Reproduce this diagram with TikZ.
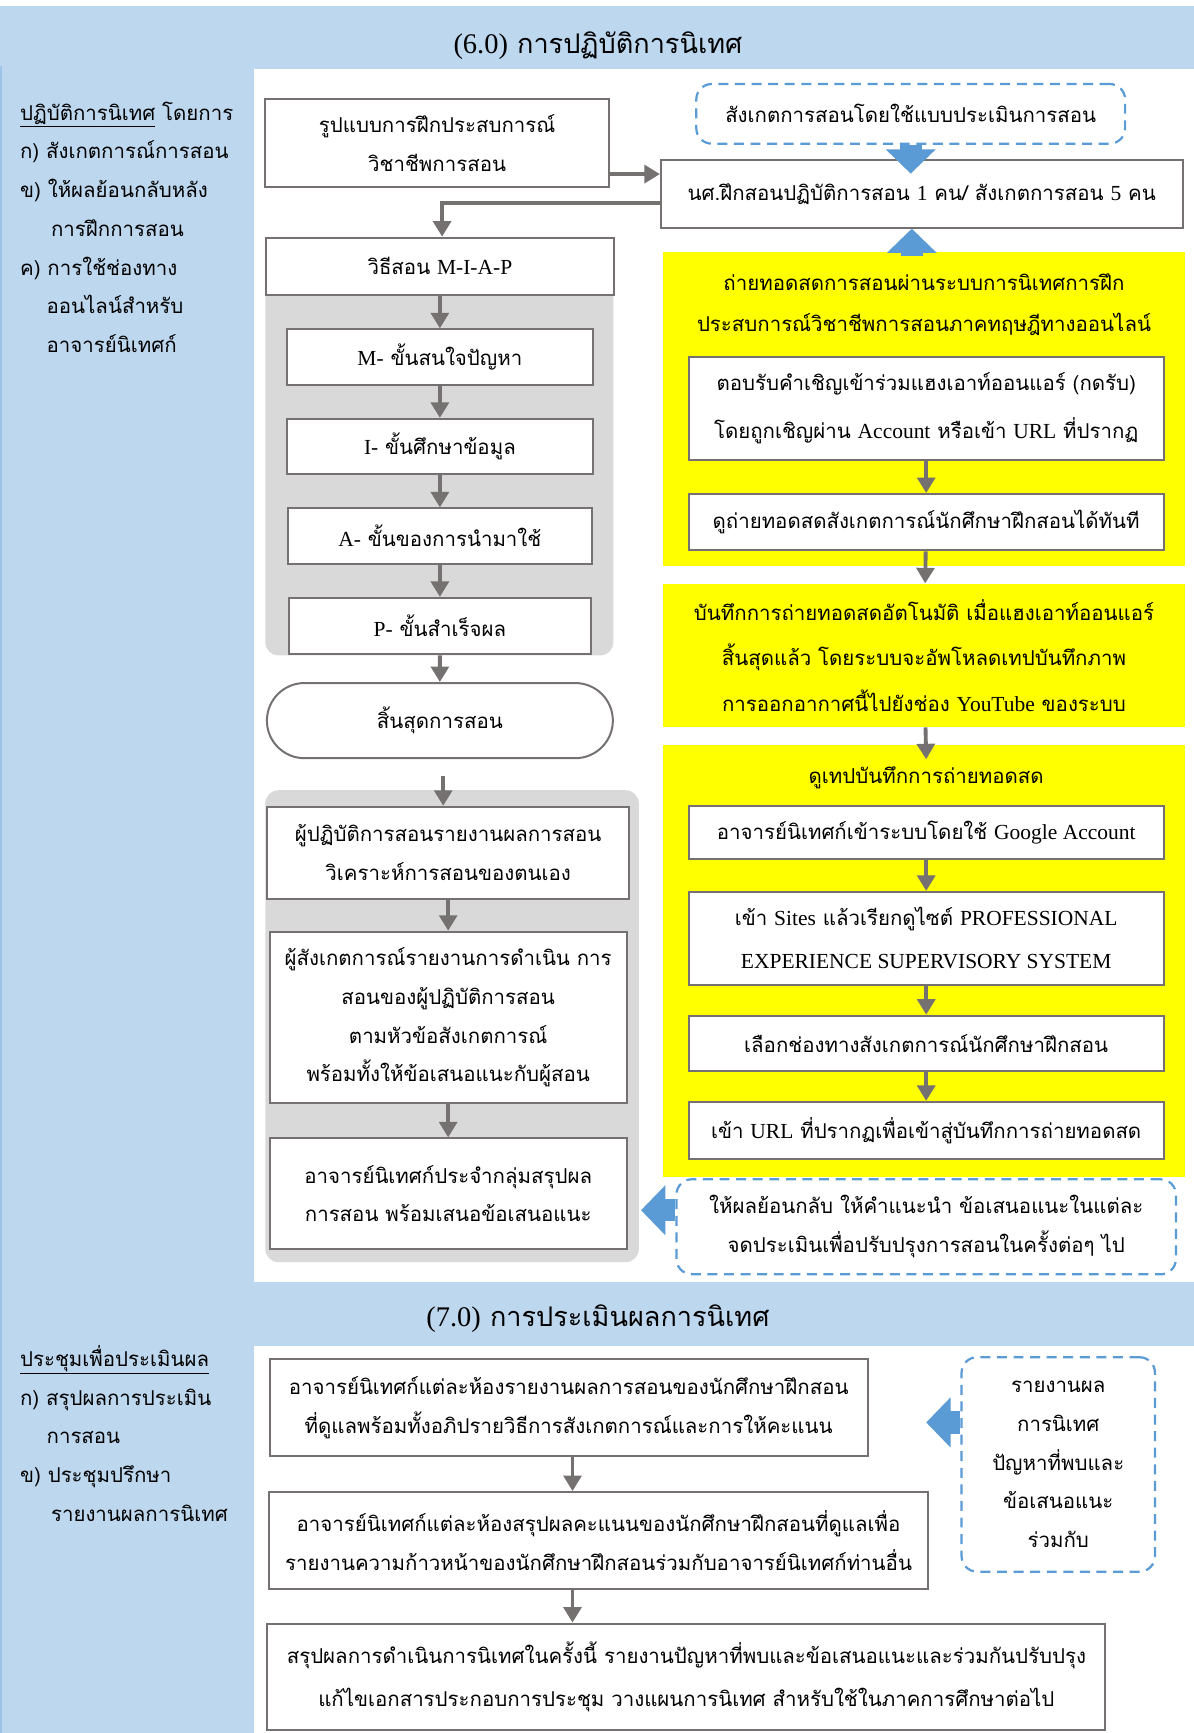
\documentclass[tikz,border=0pt]{standalone}
\usepackage{fontspec}
\setmainfont{Loma}[Script=Thai]
\newfontfamily\ltnfont{Liberation Serif}[Scale=1.05]
\newcommand{\ltn}[1]{{\ltnfont #1}}
\usepackage{tikz}
\usetikzlibrary{arrows.meta,shapes.misc,calc}
\definecolor{bandblue}{HTML}{BDD7EE}
\definecolor{edgeblue}{HTML}{9DC3E6}
\definecolor{groupgray}{HTML}{D9D9D9}
\definecolor{linegray}{HTML}{767171}
\definecolor{arrowblue}{HTML}{5B9BD5}
\definecolor{panelyellow}{HTML}{FFFF00}
\tikzset{
  box/.style={draw=linegray, line width=1.8pt, fill=white, align=center, inner sep=0pt, font=\fontsize{18.5}{35}\selectfont},
  txt/.style={align=center, inner sep=0pt, font=\fontsize{18.5}{35}\selectfont},
  side/.style={anchor=north west, align=left, inner sep=0pt, font=\fontsize{18.5}{35}\selectfont},
  title/.style={inner sep=0pt, font=\fontsize{24.5}{30}\selectfont},
  dashbox/.style={draw=arrowblue, line width=2pt, dash pattern=on 9pt off 6pt, rounded corners=14pt, align=center, inner sep=0pt, font=\fontsize{18.5}{35}\selectfont},
  flow/.style={draw=linegray, line width=3.5pt, -{Triangle[width=16pt,length=14pt]}},
  bigarrow/.style={draw=arrowblue, line width=20pt, -{Triangle[width=44pt,length=22pt]}}
}

\begin{document}
\begin{tikzpicture}[x=1pt,y=-1pt]
\useasboundingbox (0,0) rectangle (1080,1568);
\fill[white] (0,0) rectangle (1080,1568);
\fill[bandblue] (0,5) rectangle (1080,1568);
\fill[white] (230,62) rectangle (1080,1160);
\fill[white] (230,1218) rectangle (1080,1568);
\draw[edgeblue, line width=1.5pt] (0.75,60) -- (0.75,1568);

\node[title] (T6) at (541,41) {\ltn{(6.0)} การปฏิบัติการนิเทศ};
\node[title] (T7) at (541,1193) {\ltn{(7.0)} การประเมินผลการนิเทศ};

\node[side] (Side-6) at (18,92) {\underline{ปฏิบัติการนิเทศ} โดยการ\\ ก) สังเกตการณ์การสอน\\ ข) ให้ผลย้อนกลับหลัง\\ \hspace*{28pt}การฝึกการสอน\\ ค) การใช้ช่องทาง\\ \hspace*{24pt}ออนไลน์สำหรับ\\ \hspace*{24pt}อาจารย์นิเทศก์};
\node[side] (Side-7) at (18,1217) {\underline{ประชุมเพื่อประเมินผล}\\ ก) สรุปผลการประเมิน\\ \hspace*{24pt}การสอน\\ ข) ประชุมปรึกษา\\ \hspace*{28pt}รายงานผลการนิเทศ};

\fill[groupgray, rounded corners=12pt] (240,215) rectangle (555,593);
\fill[groupgray, rounded corners=12pt] (240,715) rectangle (578,1142);
\fill[panelyellow] (600,228) rectangle (1072,512);
\fill[panelyellow] (600,674) rectangle (1072,1065);

\node[box, minimum width=311pt, minimum height=79pt] (B1) at (395.5,129.5) {รูปแบบการฝึกประสบการณ์\\ วิชาชีพการสอน};
\node[dashbox, minimum width=388pt, minimum height=54pt] (D0) at (824,103) {สังเกตการสอนโดยใช้แบบประเมินการสอน};
\node[box, minimum width=472pt, minimum height=61pt] (N) at (834,175.5) {นศ.ฝึกสอนปฏิบัติการสอน \ltn{1} คน/ สังเกตการสอน \ltn{5} คน};

\node[box, minimum width=315pt, minimum height=52pt] (MIAP) at (398,241) {วิธีสอน \ltn{M-I-A-P}};
\node[box, minimum width=277pt, minimum height=50pt] (MIAP-1) at (398,323) {\ltn{M-} ขั้นสนใจปัญหา};
\node[box, minimum width=277pt, minimum height=50pt] (MIAP-2) at (398,404) {\ltn{I-} ขั้นศึกษาข้อมูล};
\node[box, minimum width=275pt, minimum height=50pt] (MIAP-3) at (398,485) {\ltn{A-} ขั้นของการนำมาใช้};
\node[box, minimum width=273pt, minimum height=51pt] (MIAP-4) at (398,566.5) {\ltn{P-} ขั้นสำเร็จผล};
\node[box, rounded rectangle, minimum width=313pt, minimum height=68pt] (End) at (398,652) {สิ้นสุดการสอน};

\node[box, minimum width=327pt, minimum height=83pt] (Rep-1) at (405.5,771.5) {ผู้ปฏิบัติการสอนรายงานผลการสอน\\ วิเคราะห์การสอนของตนเอง};
\node[box, minimum width=323pt, minimum height=155pt] (Rep-2) at (405.5,920.5) {ผู้สังเกตการณ์รายงานการดำเนิน การ\\ สอนของผู้ปฏิบัติการสอน\\ ตามหัวข้อสังเกตการณ์\\ พร้อมทั้งให้ข้อเสนอแนะกับผู้สอน};
\node[box, minimum width=323pt, minimum height=100pt] (Rep-3) at (405.5,1080) {อาจารย์นิเทศก์ประจำกลุ่มสรุปผล\\ การสอน พร้อมเสนอข้อเสนอแนะ};

\node[txt] (Live) at (836,276) {ถ่ายทอดสดการสอนผ่านระบบการนิเทศการฝึก\\[2pt] ประสบการณ์วิชาชีพการสอนภาคทฤษฎีทางออนไลน์};
\node[box, minimum width=430pt, minimum height=93pt] (Live-1) at (838,369.5) {ตอบรับคำเชิญเข้าร่วมแฮงเอาท์ออนแอร์ (กดรับ)\\[8pt] โดยถูกเชิญผ่าน \ltn{Account} หรือเข้า \ltn{URL} ที่ปรากฏ};
\node[box, minimum width=430pt, minimum height=51pt] (Live-2) at (838,472.5) {ดูถ่ายทอดสดสังเกตการณ์นักศึกษาฝึกสอนได้ทันที};
\node[txt, fill=panelyellow, minimum width=472pt, minimum height=130pt] (Rec) at (836,593) {บันทึกการถ่ายทอดสดอัตโนมัติ เมื่อแฮงเอาท์ออนแอร์\\[6pt] สิ้นสุดแล้ว โดยระบบจะอัพโหลดเทปบันทึกภาพ\\[6pt] การออกอากาศนี้ไปยังช่อง \ltn{YouTube} ของระบบ};
\coordinate (Rec-end) at (838,687);
\node[txt] (Tape) at (838,704) {ดูเทปบันทึกการถ่ายทอดสด};
\node[box, minimum width=430pt, minimum height=48pt] (Tape-1) at (838,753) {อาจารย์นิเทศก์เข้าระบบโดยใช้ \ltn{Google Account}};
\node[box, minimum width=430pt, minimum height=84pt] (Tape-2) at (838,849) {เข้า \ltn{Sites} แล้วเรียกดูไซต์ \ltn{PROFESSIONAL}\\[4pt] \ltn{EXPERIENCE SUPERVISORY SYSTEM}};
\node[box, minimum width=430pt, minimum height=50pt] (Tape-3) at (838,944) {เลือกช่องทางสังเกตการณ์นักศึกษาฝึกสอน};
\node[box, minimum width=430pt, minimum height=52pt] (Tape-4) at (838,1023) {เข้า \ltn{URL} ที่ปรากฏเพื่อเข้าสู่บันทึกการถ่ายทอดสด};
\node[dashbox, minimum width=452pt, minimum height=86pt] (Feed) at (838,1110) {ให้ผลย้อนกลับ ให้คำแนะนำ ข้อเสนอแนะในแต่ละ\\ จดประเมินเพื่อปรับปรุงการสอนในครั้งต่อๆ ไป};
\coordinate (Feed-end) at (580,1095);

\node[box, minimum width=541pt, minimum height=87pt] (Eval-1) at (514.5,1273.5) {อาจารย์นิเทศก์แต่ละห้องรายงานผลการสอนของนักศึกษาฝึกสอน\\ ที่ดูแลพร้อมทั้งอภิปรายวิธีการสังเกตการณ์และการให้คะแนน};
\node[box, minimum width=597pt, minimum height=88pt] (Eval-2) at (541.5,1394) {อาจารย์นิเทศก์แต่ละห้องสรุปผลคะแนนของนักศึกษาฝึกสอนที่ดูแลเพื่อ\\ รายงานความก้าวหน้าของนักศึกษาฝึกสอนร่วมกับอาจารย์นิเทศก์ท่านอื่น};
\node[box, minimum width=758pt, minimum height=96pt] (Eval-3) at (621,1517) {สรุปผลการดำเนินการนิเทศในครั้งนี้ รายงานปัญหาที่พบและข้อเสนอแนะและร่วมกันปรับปรุง\\[4pt] แก้ไขเอกสารประกอบการประชุม วางแผนการนิเทศ สำหรับใช้ในภาคการศึกษาต่อไป};
\node[dashbox, minimum width=175pt, minimum height=194pt] (Meet) at (957.5,1325) {รายงานผล\\ การนิเทศ\\ ปัญหาที่พบและ\\ ข้อเสนอแนะ\\ ร่วมกับ};
\coordinate (Meet-end) at (838,1287);
\coordinate (Live-top) at (825,232);
\coordinate (N-out) at (400,184);
\coordinate (End-out) at (401,702);
\coordinate (Eval-x) at (518,0);

\draw[flow] ([yshift=-28pt]B1.east) -- ([yshift=-28pt]B1.east -| N.west);
\draw[flow] (N-out -| N.west) -- (N-out) -- (N-out |- MIAP.north);
\draw[flow] (MIAP) -- (MIAP-1);
\draw[flow] (MIAP-1) -- (MIAP-2);
\draw[flow] (MIAP-2) -- (MIAP-3);
\draw[flow] (MIAP-3) -- (MIAP-4);
\draw[flow] (MIAP-4) -- (End);
\draw[flow] (End-out) -- (End-out |- Rep-1.north);
\draw[flow] (Rep-1) -- (Rep-2);
\draw[flow] (Rep-2) -- (Rep-3);
\draw[flow] (Live-1) -- (Live-2);
\draw[flow] (Live-2) -- (Rec);
\draw[flow] (Rec) -- (Rec-end);
\draw[flow] (Tape-1) -- (Tape-2);
\draw[flow] (Tape-2) -- (Tape-3);
\draw[flow] (Tape-3) -- (Tape-4);
\draw[flow] (Eval-x |- Eval-1.south) -- (Eval-x |- Eval-2.north);
\draw[flow] (Eval-x |- Eval-2.south) -- (Eval-x |- Eval-3.north);

\draw[bigarrow] (D0.south) -- ($(D0.south |- N.north)+(0,13)$);
\draw[bigarrow] (Live-top) -- (Live-top |- N.south);
\draw[bigarrow] ([yshift=15pt]Feed.west) -- (Feed-end);
\draw[bigarrow] ([yshift=38pt]Meet.west) -- (Meet-end);
\end{tikzpicture}
\end{document}
